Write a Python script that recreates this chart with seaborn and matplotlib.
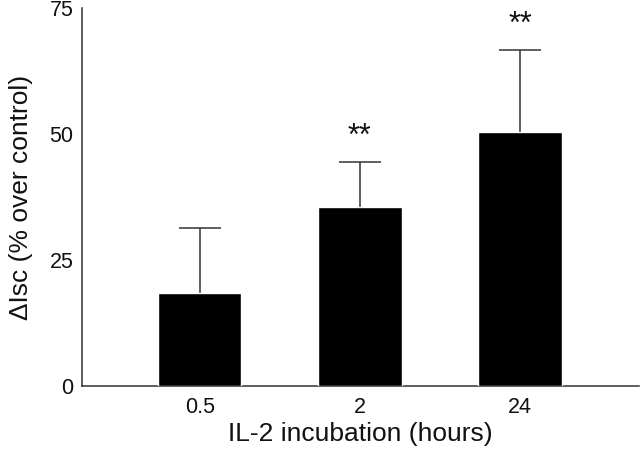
import matplotlib
matplotlib.use("Agg")
import matplotlib.pyplot as plt
import pandas as pd
import seaborn as sns

# data
hours = ['0.5', '2', '24']
means = [18.4, 35.6, 50.5]
upper = [31.3, 44.4, 66.7]
stars = ['', '**', '**']

sns.set_theme(style="white")
plt.rcParams['font.family'] = ['Liberation Sans', 'DejaVu Sans']
plt.rcParams['text.color'] = '#111111'
plt.rcParams['axes.labelcolor'] = '#111111'
plt.rcParams['xtick.color'] = '#111111'
plt.rcParams['ytick.color'] = '#111111'

df = pd.DataFrame({'hours': hours, 'isc': means})
err = [u - m for u, m in zip(upper, means)]

fig = plt.figure(figsize=(6.4, 4.51), dpi=100)
ax = fig.add_axes([0.128, 0.144, 0.870, 0.838])

sns.barplot(data=df, x='hours', y='isc', color='black', saturation=1,
            width=0.52, errorbar=None, ax=ax, zorder=3)
# symmetric bars drawn behind the columns, so only the upper half shows
ax.errorbar(range(len(hours)), means, yerr=err,
            fmt='none', ecolor='#333333', elinewidth=1.1, capsize=15,
            capthick=1.1, zorder=2)

for i, s in enumerate(stars):
    if s:
        ax.text(i, upper[i] + 3.4, s, ha='center', va='baseline',
                fontsize=22)

ax.set_ylim(0, 75)
ax.set_xlim(-0.735, 2.74)
ax.set_yticks([0, 25, 50, 75])
ax.set_xlabel('IL-2 incubation (hours)', fontsize=19, labelpad=3)
ax.set_ylabel('ΔIsc (% over control)', fontsize=19, labelpad=12)

for side in ['top', 'right']:
    ax.spines[side].set_visible(False)
for side in ['left', 'bottom']:
    ax.spines[side].set_color('#333333')
    ax.spines[side].set_linewidth(1.1)

ax.tick_params(axis='y', direction='in', length=8.6, width=1.1,
               color='#333333', labelsize=15.5, pad=6)
ax.tick_params(axis='x', length=0, labelsize=15.5, pad=8)

plt.savefig('out.png', dpi=100)
